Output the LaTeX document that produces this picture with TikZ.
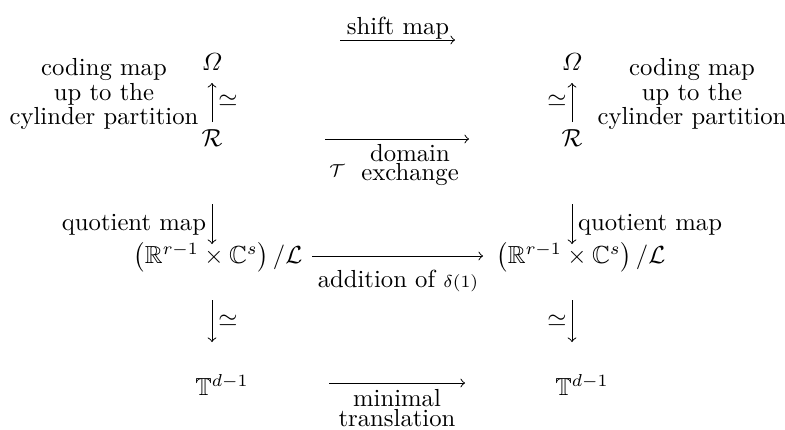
\documentclass[tikz,border=0pt]{standalone}
\usepackage{amsmath,amssymb}
\begin{document}
\begin{tikzpicture}[x=0.405pt,y=-0.405pt,
  every node/.style={inner sep=0pt,outer sep=0pt},
  txt/.style={align=center,font=\fontsize{10pt}{7.9pt}\selectfont},
  arr/.style={->,line width=0.4pt}]
\useasboundingbox (0,0) rectangle (785,430);
% objects
\node (Ol) at (212,62) {$\varOmega$};
\node (Or) at (572,62) {$\varOmega$};
\node (Rl) at (212,138) {$\mathcal{R}$};
\node (Rr) at (572,138) {$\mathcal{R}$};
\node (Ql) at (218,257) {$\left(\mathbb{R}^{r-1}\times\mathbb{C}^s\right)/\mathcal{L}$};
\node (Qr) at (581,257) {$\left(\mathbb{R}^{r-1}\times\mathbb{C}^s\right)/\mathcal{L}$};
\node (Tl) at (222,385) {$\mathbb{T}^{d-1}$};
\node (Tr) at (582,385) {$\mathbb{T}^{d-1}$};
% arrow end points
\coordinate (h1s) at (340,40); \coordinate (h1e) at (455,40);
\coordinate (h2s) at (325,139); \coordinate (h2e) at (469,139);
\coordinate (h3s) at (312,256); \coordinate (h3e) at (483,256);
\coordinate (h4s) at (329,383); \coordinate (h4e) at (465,383);
\coordinate (v1s) at (212,122); \coordinate (v1e) at (212,83);
\coordinate (v2s) at (572,122); \coordinate (v2e) at (572,83);
\coordinate (v3s) at (212,204); \coordinate (v3e) at (212,244);
\coordinate (v4s) at (572,204); \coordinate (v4e) at (572,244);
\coordinate (v5s) at (212,300); \coordinate (v5e) at (212,342);
\coordinate (v6s) at (572,300); \coordinate (v6e) at (572,342);
% horizontal arrows
\draw[arr] (h1s) -- (h1e);
\draw[arr] (h2s) -- (h2e);
\draw[arr] (h3s) -- (h3e);
\draw[arr] (h4s) -- (h4e);
% vertical arrows
\draw[arr] (v1s) -- (v1e);
\draw[arr] (v2s) -- (v2e);
\draw[arr] (v3s) -- (v3e);
\draw[arr] (v4s) -- (v4e);
\draw[arr] (v5s) -- (v5e);
\draw[arr] (v6s) -- (v6e);
% labels
\node[txt] (sm) at (398,28) {shift map};
\node[txt] (cl) at (104,94) {coding map\\up to the\\cylinder partition};
\node[txt] (cr) at (692,94) {coding map\\up to the\\cylinder partition};
\node (e1) at (228,101) {$\simeq$};
\node (e2) at (557,101) {$\simeq$};
\node (tau) at (337,171) {$\scriptstyle\mathcal{T}$};
\node[txt] (de) at (410,165) {domain\\exchange};
\node[txt,anchor=east] (ql) at (206,225) {quotient map};
\node[txt,anchor=west] (qr) at (578,225) {quotient map};
\node[txt] (ad) at (398,281) {addition of $\scriptstyle\delta(1)$};
\node (e3) at (228,321) {$\simeq$};
\node (e4) at (557,321) {$\simeq$};
\node[txt] (mt) at (397,408) {minimal\\translation};
\end{tikzpicture}
\end{document}
